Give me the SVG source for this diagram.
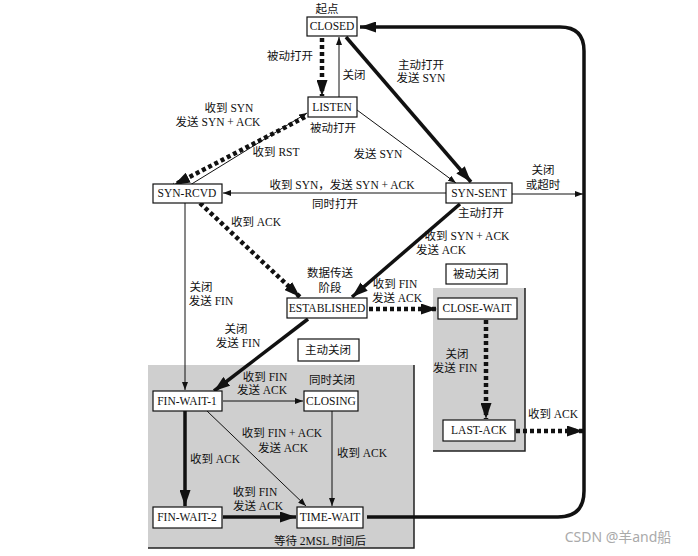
<svg xmlns="http://www.w3.org/2000/svg" width="698" height="556" viewBox="0 0 698 556">
<style>
text{font-family:"Liberation Serif","Noto Sans CJK SC",serif;font-size:11.5px;fill:#111;text-anchor:middle}
.box{fill:#fff;stroke:#111;stroke-width:1.2}
.thin{fill:none;stroke:#111;stroke-width:1}
.thick{fill:none;stroke:#111;stroke-width:3.5}
.dash{fill:none;stroke:#111;stroke-width:4.5;stroke-dasharray:4 3}
.gray{fill:#cfcfcf}
.shadow{fill:none;stroke:#222;stroke-width:1.5}
</style>
<defs>
<marker id="a" viewBox="0 0 8 6" refX="8" refY="3" markerWidth="8" markerHeight="6" markerUnits="userSpaceOnUse" orient="auto"><path d="M0,0 L8,3 L0,6z" fill="#111"/></marker>
<marker id="b" viewBox="0 0 16 11" refX="16" refY="5.5" markerWidth="16" markerHeight="11" markerUnits="userSpaceOnUse" orient="auto"><path d="M0,0 L16,5.5 L0,11z" fill="#111"/></marker>
</defs>
<g id="regions">
<rect class="gray" x="148" y="365" width="266" height="183"/>
<polyline class="shadow" points="414,365 414,548 148,548"/>
<rect class="gray" x="433" y="288" width="92" height="163"/>
<polyline class="shadow" points="525,288 525,451 433,451"/>
</g>
<g id="connectors">
<path class="thick" d="M367,517 H558 Q584,517 584,491 V51 Q584,27 560,27 H360" marker-end="url(#b)"/>
<line class="dash" x1="322" y1="38" x2="322" y2="96" marker-end="url(#b)"/>
<line class="thin" x1="339" y1="97" x2="339" y2="37" marker-end="url(#a)"/>
<line class="thick" x1="346" y1="37" x2="471" y2="182" marker-end="url(#b)"/>
<line class="thin" x1="357" y1="110" x2="456" y2="183" marker-end="url(#a)"/>
<line class="thin" x1="512" y1="194" x2="583" y2="194" marker-end="url(#a)"/>
<line class="dash" x1="305" y1="117" x2="174" y2="185" marker-end="url(#b)"/>
<line class="thin" x1="190" y1="185" x2="307" y2="113" marker-end="url(#a)"/>
<line class="thin" x1="446" y1="193" x2="223" y2="193" marker-end="url(#a)"/>
<line class="dash" x1="200" y1="203" x2="300" y2="297" marker-end="url(#b)"/>
<line class="thick" x1="460" y1="204" x2="352" y2="297" marker-end="url(#b)"/>
<line class="thin" x1="185" y1="203" x2="185" y2="390" marker-end="url(#a)"/>
<line class="dash" x1="369" y1="309" x2="437" y2="309" marker-end="url(#b)"/>
<line class="thick" x1="308" y1="319" x2="214" y2="391" marker-end="url(#b)"/>
<line class="dash" x1="486" y1="320" x2="486" y2="419" marker-end="url(#b)"/>
<line class="dash" x1="516" y1="431" x2="583" y2="431" marker-end="url(#b)"/>
<line class="thin" x1="223" y1="401" x2="303" y2="401" marker-end="url(#a)"/>
<line class="thick" x1="185" y1="411" x2="185" y2="506" marker-end="url(#b)"/>
<line class="thick" x1="223" y1="517" x2="296" y2="517" marker-end="url(#b)"/>
<line class="thin" x1="207" y1="411" x2="306" y2="506" marker-end="url(#a)"/>
<line class="thin" x1="332" y1="411" x2="332" y2="506" marker-end="url(#a)"/>
</g>
<g id="labels">
<text x="327" y="13">起点</text>
<text x="290" y="60">被动打开</text>
<text x="354" y="79">关闭</text>
<text x="421" y="69">主动打开</text>
<text x="421" y="82">发送 SYN</text>
<text x="229" y="112">收到 SYN</text>
<text x="218" y="126">发送 SYN + ACK</text>
<text x="333" y="132">被动打开</text>
<text x="276" y="156">收到 RST</text>
<text x="378" y="158">发送 SYN</text>
<text x="543" y="174">关闭</text>
<text x="543" y="189">或超时</text>
<text x="342" y="189">收到 SYN，发送 SYN + ACK</text>
<text x="335" y="208">同时打开</text>
<text x="481" y="217">主动打开</text>
<text x="256" y="226">收到 ACK</text>
<text x="467" y="240">收到 SYN + ACK</text>
<text x="441" y="254">发送 ACK</text>
<text x="330" y="277">数据传送</text>
<text x="330" y="292">阶段</text>
<text x="395" y="288">收到 FIN</text>
<text x="397" y="302">发送 ACK</text>
<text x="201" y="291">关闭</text>
<text x="211" y="305">发送 FIN</text>
<text x="236" y="333">关闭</text>
<text x="238" y="347">发送 FIN</text>
<text x="457" y="358">关闭</text>
<text x="455" y="372">发送 FIN</text>
<text x="553" y="418">收到 ACK</text>
<text x="265" y="381">收到 FIN</text>
<text x="262" y="394">发送 ACK</text>
<text x="332" y="384">同时关闭</text>
<text x="282" y="437">收到 FIN + ACK</text>
<text x="283" y="452">发送 ACK</text>
<text x="215" y="463">收到 ACK</text>
<text x="362" y="457">收到 ACK</text>
<text x="255" y="496">收到 FIN</text>
<text x="258" y="510">发送 ACK</text>
<text x="320" y="545">等待 2MSL 时间后</text>
<text x="618" y="542" style="font-family:'Noto Sans','Noto Sans CJK SC',sans-serif;font-size:14px;fill:#aaa">CSDN @羊and船</text>
</g>
<g id="closed"><rect class="box" x="307" y="17" width="50" height="19"/><text x="332" y="30">CLOSED</text></g>
<g id="listen"><rect class="box" x="308" y="97" width="49" height="20"/><text x="332" y="111">LISTEN</text></g>
<g id="syn-sent"><rect class="box" x="446" y="183" width="66" height="20"/><text x="479" y="197">SYN-SENT</text></g>
<g id="syn-rcvd"><rect class="box" x="153" y="184" width="69" height="19"/><text x="187" y="197">SYN-RCVD</text></g>
<g id="established"><rect class="box" x="287" y="298" width="80" height="20"/><text x="327" y="312">ESTABLISHED</text></g>
<g id="active-close"><rect class="box" x="298" y="339" width="61" height="22"/><text x="328" y="354">主动关闭</text></g>
<g id="passive-close"><rect class="box" x="446" y="264" width="61" height="20"/><text x="476" y="278">被动关闭</text></g>
<g id="close-wait"><rect class="box" x="438" y="298" width="79" height="21"/><text x="477" y="312">CLOSE-WAIT</text></g>
<g id="last-ack"><rect class="box" x="443" y="420" width="72" height="21"/><text x="479" y="434">LAST-ACK</text></g>
<g id="fin-wait-1"><rect class="box" x="153" y="391" width="69" height="20"/><text x="187" y="405">FIN-WAIT-1</text></g>
<g id="closing"><rect class="box" x="304" y="391" width="54" height="20"/><text x="331" y="405">CLOSING</text></g>
<g id="fin-wait-2"><rect class="box" x="153" y="507" width="69" height="21"/><text x="187" y="521">FIN-WAIT-2</text></g>
<g id="time-wait"><rect class="box" x="297" y="507" width="66" height="21"/><text x="330" y="521">TIME-WAIT</text></g>
</svg>
